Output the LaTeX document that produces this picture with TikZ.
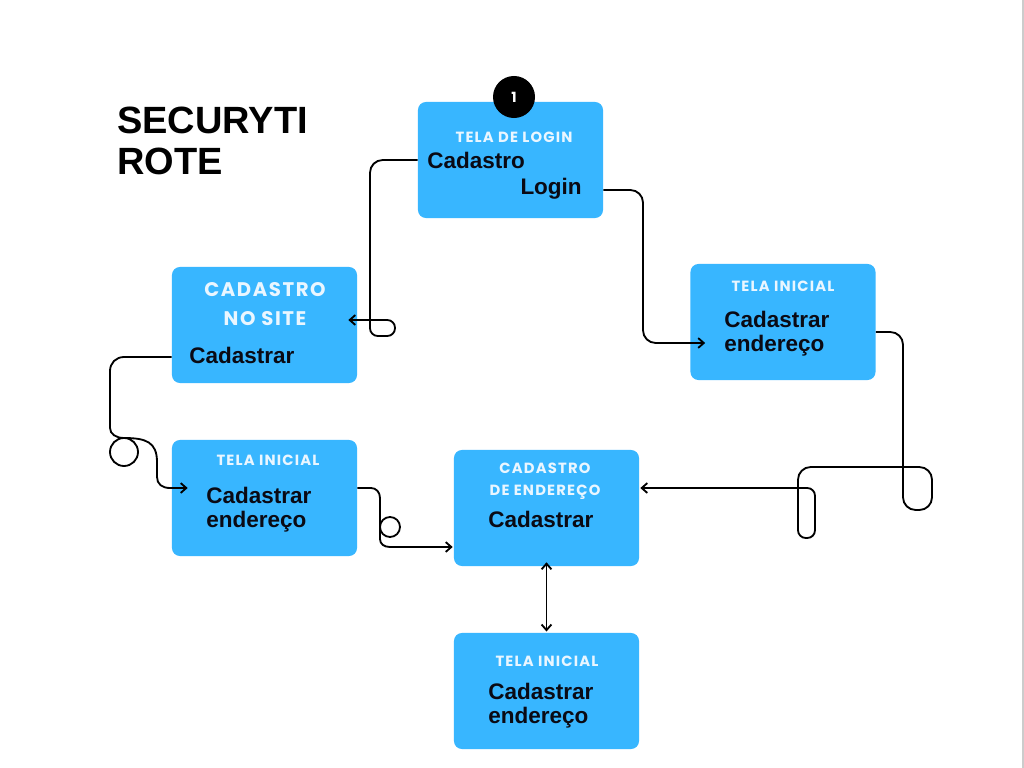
\documentclass[tikz,border=0pt]{standalone}
\usepackage{fontspec}
\setmainfont{Liberation Sans}
\newfontfamily\headfont[LetterSpace=8]{Poppins}
\usetikzlibrary{arrows.meta,calc}
\definecolor{boxblue}{RGB}{56,182,255}
\definecolor{headwhite}{RGB}{234,246,255}
\definecolor{inkblack}{RGB}{10,10,20}

\begin{document}
\begin{tikzpicture}[x=0.025cm, y=-0.025cm,
            screen/.style={rectangle, fill=boxblue, rounded corners=0.2cm, minimum width=4.625cm, minimum height=2.9cm},
            head/.style={inner sep=0, anchor=base, text=headwhite, font=\headfont\bfseries\fontsize{10.5}{15}\selectfont, align=center},
            entry/.style={inner sep=0, anchor=base west, text=inkblack, font=\bfseries\fontsize{16}{17}\selectfont, align=left},
            link/.style={draw=black, line width=1.3pt, rounded corners=9pt},
            arrow/.style={link, ->, >={Straight Barb[length=4pt,width=7pt]}}
        ]
            \useasboundingbox[fill=white] (0,0) rectangle (1024,768);
            \draw[black!20, line width=1pt] (1023,0) -- (1023,768);

            \node[inner sep=0, anchor=base west, align=left, font=\bfseries\fontsize{27}{29}\selectfont] (title) at (117,174) {SECURYTI\\ROTE};

            % screens
            \node[screen] (login) at (510.5,160) {};
            \node[screen] (site) at (264.5,325) {};
            \node[screen] (tir) at (783,322) {};
            \node[screen] (til) at (264.5,498) {};
            \node[screen] (cde) at (546.5,508) {};
            \node[screen] (tib) at (546.5,691) {};
            \node[circle, fill=black, minimum size=1.05cm, inner sep=0, text=white, font=\headfont\bfseries\fontsize{10}{10}\selectfont] (step1) at (514,97) {1};

            % texts (base = last line)
            \node[head] (hlogin) at (514,143) {TELA DE LOGIN};
            \node[entry] (lcad) at (427,169) {Cadastro};
            \node[entry, anchor=base east] (llog) at (582,194) {Login};
            \node[head, font=\headfont\bfseries\fontsize{14}{20.6}\selectfont] (hsite) at (265,325) {CADASTRO\\NO SITE};
            \node[entry] (scad) at (189,363) {Cadastrar};
            \node[head] (htir) at (783,291) {TELA INICIAL};
            \node[entry] (rcad) at (724,351) {Cadastrar\\endereço};
            \node[head] (htil) at (268,465) {TELA INICIAL};
            \node[entry] (lcad2) at (206,527) {Cadastrar\\endereço};
            \node[head] (hcde) at (545,495) {CADASTRO\\DE ENDEREÇO};
            \node[entry] (ccad) at (488,527) {Cadastrar};
            \node[head] (htib) at (547,666) {TELA INICIAL};
            \node[entry] (bcad) at (488,723) {Cadastrar\\endereço};

            % connectors
            \draw[arrow] (login.west) -- (370,160) [rounded corners=5.5pt] -- (370,336) -- (395,336) -- (395,320) -- ($(site.east)+(-9,-5)$);
            \draw[arrow] ($(login.east)+(0,30)$) -- (643,190) -- (643,343) -- ($(tir.west)+(15,21)$);
            \draw[arrow] ($(tir.east)+(0,10)$) -- (903,332) -- (903,510) -- (932,510) -- (932,467) -- (798,467) [rounded corners=5.5pt] -- (798,538) -- (815,538) -- (815,488) -- ($(cde.east)+(1,-20)$);
            % the two with loops
            \draw[arrow, sharp corners] ($(site.west)+(0,32)$) -- (124,357) .. controls (116,357) and (110,363) .. (110,371) -- (110,428) .. controls (110,434) and (116,438) .. (124,438) arc[start angle=-90, end angle=270, radius=14] .. controls (146,438) and (157,442) .. (157,462) -- (157,477) .. controls (157,484) and (162,488) .. (170,488) -- ($(til.west)+(16,-10)$);
            \draw[arrow, sharp corners] ($(til.east)+(0,-10)$) -- (371,488) .. controls (376,488) and (380,492) .. (380,498) -- (380,527) arc[start angle=180, end angle=-180, radius=10] -- (380,539) .. controls (380,544) and (384,547) .. (390,547) -- ($(cde.west)+(-1,39)$);
            \draw[arrow, <->, shorten <=-0.1cm, shorten >=0.03cm] (cde.south) -- (tib.north);
        \end{tikzpicture}
\end{document}
